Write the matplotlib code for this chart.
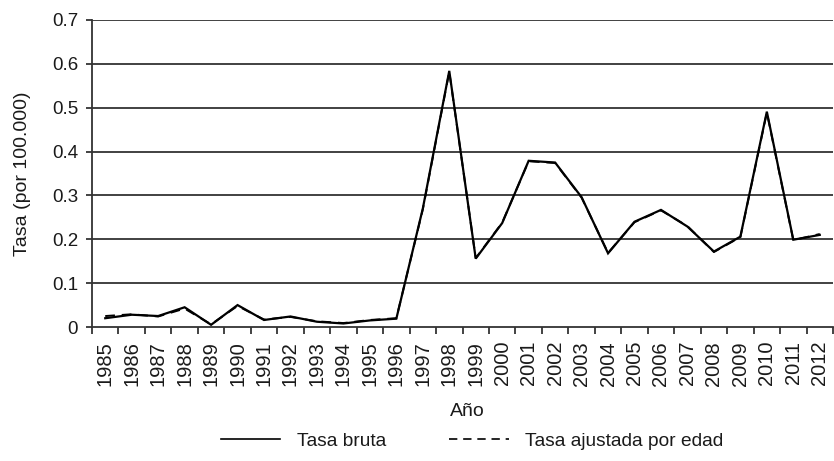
import matplotlib
matplotlib.use("Agg")
import matplotlib.pyplot as plt
from matplotlib.ticker import FixedLocator, NullFormatter, FixedFormatter

years = [str(y) for y in range(1985, 2013)]
tasa_bruta = [0.020, 0.028, 0.025, 0.045, 0.005, 0.050, 0.016, 0.024, 0.012, 0.008,
              0.015, 0.019, 0.270, 0.584, 0.156, 0.237, 0.379, 0.375, 0.296, 0.168,
              0.240, 0.267, 0.229, 0.172, 0.206, 0.491, 0.199, 0.210]
tasa_ajustada = [0.025, 0.029, 0.024, 0.042, 0.006, 0.048, 0.017, 0.023, 0.013, 0.009,
                 0.016, 0.020, 0.268, 0.582, 0.157, 0.238, 0.378, 0.374, 0.295, 0.169,
                 0.239, 0.266, 0.230, 0.171, 0.205, 0.489, 0.198, 0.212]
yticks = [0, 0.1, 0.2, 0.3, 0.4, 0.5, 0.6, 0.7]
ytick_labels = ["0", "0.1", "0.2", "0.3", "0.4", "0.5", "0.6", "0.7"]

plt.rcParams['font.family'] = ['Liberation Sans', 'DejaVu Sans']

fig = plt.figure(figsize=(8.34, 4.61), dpi=100)
ax = fig.add_axes([92/834, 1-327/461, (833-92)/834, (327-20)/461])

x = list(range(len(years)))
ax.plot(x, tasa_bruta, color='black', lw=1.6, solid_joinstyle='miter', label='Tasa bruta', zorder=3)
ax.plot(x, tasa_ajustada, color='black', lw=1.4, dashes=(5, 3.5), label='Tasa ajustada por edad', zorder=3)

ax.set_xlim(-0.5, len(years) - 0.5)
ax.set_ylim(0, 0.7)

ax.xaxis.set_major_locator(FixedLocator([i - 0.5 for i in range(len(years) + 1)]))
ax.xaxis.set_major_formatter(NullFormatter())
ax.xaxis.set_minor_locator(FixedLocator(x))
ax.xaxis.set_minor_formatter(FixedFormatter(years))
ax.tick_params(axis='x', which='major', length=5, width=1.2, direction='out', color='#222222')
ax.tick_params(axis='x', which='minor', length=0, pad=10, labelsize=14.5, labelrotation=90, labelcolor='#1a1a1a')

ax.set_yticks(yticks)
ax.set_yticklabels(ytick_labels)
ax.tick_params(axis='y', length=4, width=1.2, direction='out', pad=6, labelsize=13.5, color='#222222', labelcolor='#1a1a1a')

for v in yticks[1:]:
    ax.axhline(v, color='#333333', lw=1.3, zorder=1)

for s in ['top', 'right']:
    ax.spines[s].set_visible(False)
for s in ['left', 'bottom']:
    ax.spines[s].set_color('#333333')
    ax.spines[s].set_linewidth(1.3)

ax.set_ylabel('Tasa (por 100.000)', fontsize=14, color='#1a1a1a')
ax.yaxis.set_label_coords(-0.082, 0.5)
fig.text(467/834, 1-411/461, 'Año', fontsize=14, ha='center', va='center', color='#1a1a1a')

leg = fig.legend(loc='center', bbox_to_anchor=(472/834, 1-441/461), ncol=2, frameon=False,
                 prop={'size': 13.8}, handlelength=3.1, handletextpad=0.85,
                 columnspacing=3.3)
for t in leg.get_texts():
    t.set_color('#1a1a1a')
for h in leg.get_lines():
    h.set_linewidth(1.2)

fig.savefig('out.png', dpi=100)
